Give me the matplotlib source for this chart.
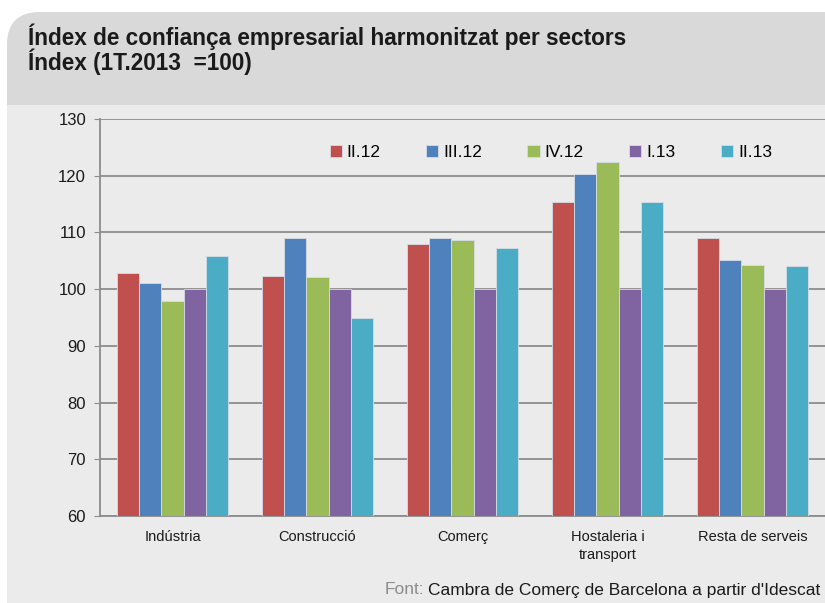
import matplotlib
matplotlib.use("Agg")
import matplotlib.pyplot as plt
import numpy as np
from matplotlib.patches import FancyBboxPatch, Rectangle

categories = ["Indústria", "Construcció", "Comerç", "Hostaleria i\ntransport", "Resta de serveis"]
series_names = ["II.12", "III.12", "IV.12", "I.13", "II.13"]
ii12 = [102.9, 102.3, 108.0, 115.4, 109.0]
iii12 = [101.0, 109.0, 109.1, 120.3, 105.1]
iv12 = [97.9, 102.1, 108.7, 122.4, 104.3]
i13 = [100.0, 100.0, 100.0, 100.0, 100.0]
ii13 = [105.9, 95.0, 107.3, 115.4, 104.1]
yticks = [60, 70, 80, 90, 100, 110, 120, 130]

colors = ["#C0504D", "#4F81BD", "#9BBB59", "#8064A2", "#4BACC6"]
series = [ii12, iii12, iv12, i13, ii13]

W, H = 825, 603
fig = plt.figure(figsize=(W/100, H/100), dpi=100)
fig.patch.set_facecolor("white")

def fx(px): return px / W
def fy(py): return 1 - py / H

bg = FancyBboxPatch((fx(7), fy(640)), fx(900), fy(12) - fy(640),
                    boxstyle="round,pad=0,rounding_size=0.04", transform=fig.transFigure,
                    facecolor="#EBEBEB", edgecolor="none", zorder=-10, mutation_aspect=W/H)
fig.patches.append(bg)
top = FancyBboxPatch((fx(7), fy(105)), fx(900), fy(12) - fy(105),
                     boxstyle="round,pad=0,rounding_size=0.04", transform=fig.transFigure,
                     facecolor="#D9D9D9", edgecolor="none", zorder=-9, mutation_aspect=W/H)
fig.patches.append(top)
fig.patches.append(Rectangle((fx(7), fy(105)), fx(900), fy(60) - fy(105), transform=fig.transFigure,
                             facecolor="#D9D9D9", edgecolor="none", zorder=-9))

title_font = ["Liberation Sans", "DejaVu Sans"]
fig.text(fx(28), fy(37), "Índex de confiança empresarial harmonitzat per sectors",
         fontsize=16.3, fontweight="bold", family=title_font, va="center", ha="left", color="#1a1a1a")
fig.text(fx(28), fy(62), "Índex (1T.2013  =100)",
         fontsize=16.3, fontweight="bold", family=title_font, va="center", ha="left", color="#1a1a1a")

ax = fig.add_axes([fx(100), fy(516), fx(825) - fx(100), fy(119) - fy(516)])
ax.set_facecolor("#EBEBEB")
ax.set_zorder(1)
ax.set_xlim(-0.5, 4.5)
ax.set_ylim(60, 130)
ax.set_yticks(yticks)

x = np.arange(len(categories))
bw = 0.152
for i, (vals, c, name) in enumerate(zip(series, colors, series_names)):
    ax.bar(x + (i - 2) * bw, np.array(vals) - 60, bottom=60, width=bw, color=c,
           edgecolor="#D6DCE6", linewidth=0.6, label=name, zorder=3)

ax.grid(axis="y", color="#8C8C8C", linewidth=1.3, zorder=1)
ax.set_axisbelow(True)
for s in ["top", "right"]:
    ax.spines[s].set_visible(False)
for s in ["left", "bottom"]:
    ax.spines[s].set_color("#8C8C8C")
    ax.spines[s].set_linewidth(1.3)
ax.tick_params(axis="y", length=4, color="#8C8C8C", pad=6, labelcolor="#1a1a1a")
ax.tick_params(axis="x", length=0, pad=10, labelcolor="#1a1a1a")
ax.set_xticks(x)
ax.set_xticklabels(categories, family=title_font, fontsize=10.5, linespacing=1.35)
for lab in ax.get_yticklabels():
    lab.set_family(title_font)
    lab.set_fontsize(12)

leg = ax.legend(loc="upper left", bbox_to_anchor=(0.295, 0.975), ncol=5, frameon=False,
                handlelength=0.7, handleheight=0.7, handletextpad=0.3, columnspacing=2.6,
                prop={"family": title_font, "size": 12.5})

ft = fig.text(fx(820), fy(590), "Cambra de Comerç de Barcelona a partir d'Idescat",
              fontsize=12.5, family=title_font, ha="right", va="center", color="#1a1a1a")
fig.canvas.draw()
r = fig.canvas.get_renderer()
bb = ft.get_window_extent(r)
fig.text(bb.x0 / W - fx(3), fy(590), "Font:", fontsize=12.5, family=title_font,
         ha="right", va="center", color="#8C8C8C")

fig.savefig("out.png", dpi=100, facecolor="white")
